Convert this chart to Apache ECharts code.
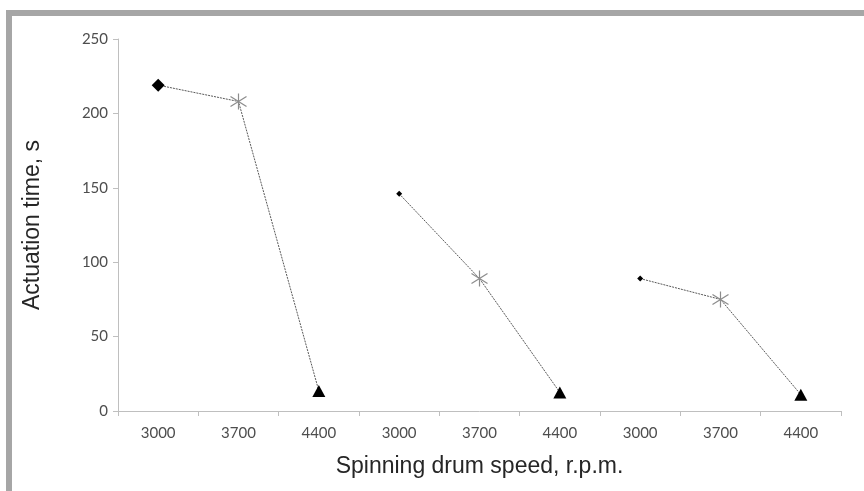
<!DOCTYPE html>
<html>
<head>
<meta charset="utf-8">
<script src="https://cdn.jsdelivr.net/npm/echarts@6/dist/echarts.min.js"></script>
<style>
  html, body { margin: 0; padding: 0; background: #fff; }
  #chart { width: 864px; height: 491px; }
</style>
</head>
<body>
<div id="chart"></div>
<script>
// drum speeds, three groups of three
var speeds = ['3000', '3700', '4400', '3000', '3700', '4400', '3000', '3700', '4400'];
var yTicks = [0, 50, 100, 150, 200, 250];

// actuation time (s) for each group
var group1 = [219, 208, 13.5];
var group2 = [146, 89, 12.5];
var group3 = [89, 75, 11];

var starPath = 'path://M8,0L8,16M0,3L16,13M0,13L16,3';

function marks(vals, firstSize) {
  return [
    { symbol: 'diamond', symbolSize: firstSize, itemStyle: { color: '#000', borderWidth: 0 } },
    { symbol: starPath, symbolSize: 16, itemStyle: { color: 'none', borderColor: '#8c8c8c', borderWidth: 1.2 } },
    { symbol: 'triangle', symbolSize: [13, 12], itemStyle: { color: '#000', borderWidth: 0 } }
  ].map(function (m, i) {
    m.value = vals[i];
    return m;
  });
}

function makeSeries(vals, offset, firstSize) {
  var pts = marks(vals, firstSize);
  var data = speeds.map(function () { return null; });
  for (var i = 0; i < 3; i++) data[offset + i] = pts[i];
  return {
    type: 'line',
    data: data,
    connectNulls: false,
    showAllSymbol: true,
    lineStyle: { color: '#595959', width: 1, type: [2, 1] },
    emphasis: { disabled: true },
    z: 2
  };
}

var chart = echarts.init(document.getElementById('chart'));

var option = {
  animation: false,
  backgroundColor: '#fff',
  grid: { left: 118, right: 23, top: 39, bottom: 80 },
  graphic: [
    { type: 'rect', shape: { x: 6, y: 10, width: 858, height: 6 }, style: { fill: '#a6a6a6' } },
    { type: 'rect', shape: { x: 6, y: 10, width: 6, height: 481 }, style: { fill: '#a6a6a6' } }
  ],
  xAxis: {
    type: 'category',
    data: speeds,
    boundaryGap: true,
    name: 'Spinning drum speed, r.p.m.',
    nameLocation: 'middle',
    nameGap: 44,
    nameTextStyle: { fontFamily: 'Liberation Sans', fontSize: 23, color: '#262626' },
    axisLine: { lineStyle: { color: '#bfbfbf', width: 1 } },
    axisTick: { show: true, length: 5, lineStyle: { color: '#bfbfbf' } },
    axisLabel: { interval: 0, margin: 15, fontFamily: 'Lato', fontSize: 15, color: '#4d4d4d' },
    splitLine: { show: false }
  },
  yAxis: {
    type: 'value',
    min: yTicks[0],
    max: yTicks[yTicks.length - 1],
    interval: yTicks[1] - yTicks[0],
    name: 'Actuation time, s',
    nameLocation: 'middle',
    nameGap: 74,
    nameTextStyle: { fontFamily: 'Liberation Sans', fontSize: 23, color: '#262626' },
    axisLine: { show: true, lineStyle: { color: '#bfbfbf', width: 1 } },
    axisTick: { show: true, length: 5, lineStyle: { color: '#bfbfbf' } },
    axisLabel: { margin: 10, fontFamily: 'Lato', fontSize: 15, color: '#4d4d4d' },
    splitLine: { show: false }
  },
  series: [
    makeSeries(group1, 0, 13),
    makeSeries(group2, 3, 6),
    makeSeries(group3, 6, 6)
  ]
};

chart.setOption(option);
</script>
</body>
</html>
